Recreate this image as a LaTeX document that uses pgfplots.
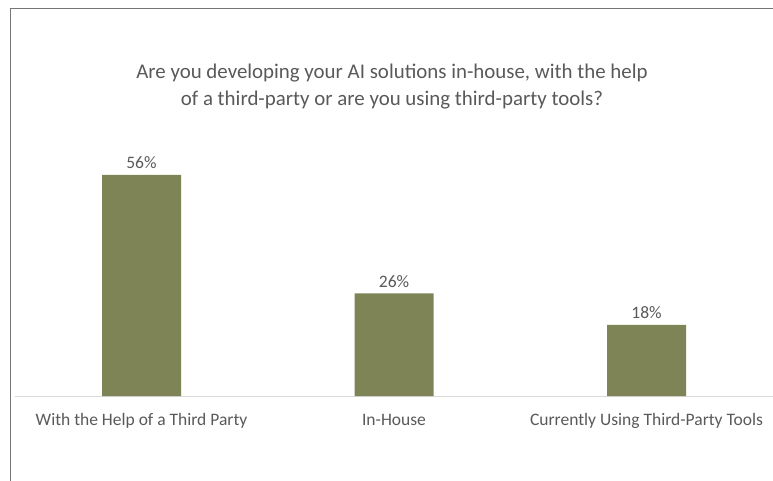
\documentclass[border=0pt]{standalone}
\usepackage{fontspec}
\setmainfont{Carlito}
\usepackage{pgfplots}
\pgfplotsset{compat=1.18}
\definecolor{barc}{HTML}{7F8456}
\definecolor{txt}{HTML}{595959}
\definecolor{basec}{HTML}{D9D9D9}
\definecolor{framec}{HTML}{767676}
\begin{document}
\begin{tikzpicture}
\useasboundingbox (0pt,0pt) rectangle (773pt,480pt);
\draw[framec,line width=1pt] (10.5pt,-5pt) -- (10.5pt,471.5pt) -- (790pt,471.5pt);
\node[txt,font=\fontsize{20.9}{27}\selectfont,align=center,anchor=center] at (392pt,393.5pt) {Are you developing your AI solutions in-house, with the help\\of a third-party or are you using third-party tools?};
\begin{axis}[
  at={(141.5pt,84pt)}, anchor=origin,
  scale only axis, width=757.5pt, height=237pt,
  xmin=-0.5, xmax=2.5, ymin=0, ymax=60,
  axis x line=bottom, axis y line=none,
  x axis line style={draw=basec, line width=1pt, -},
  ybar, bar width=79pt,
  xtick={0,1,2}, major tick length=0pt,
  xticklabels={With the Help of a Third Party, In-House, Currently Using Third-Party Tools},
  xticklabel style={txt,font=\fontsize{17.5}{20}\selectfont, anchor=base, yshift=-29pt, inner sep=0pt},
  ytick=\empty,
  nodes near coords={\pgfmathprintnumber{\pgfplotspointmeta}\%},
  nodes near coords style={txt,font=\fontsize{17.5}{20}\selectfont, anchor=base, yshift=6pt, inner sep=0pt},
  /pgf/number format/assume math mode=true,
  point meta=y,
  clip=false,
]
\addplot[fill=barc,draw=none] coordinates {(0,56) (1,26) (2,18)};
\end{axis}
\end{tikzpicture}
\end{document}
